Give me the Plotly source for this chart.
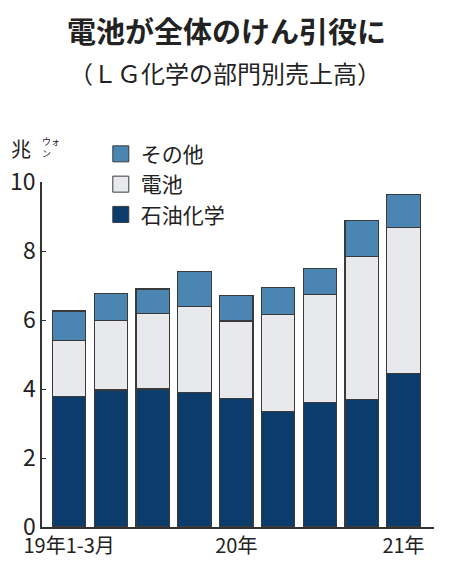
import plotly.graph_objects as go

# LG化学 部門別売上高 (兆ウォン), 19年1-3月 .. 21年1-3月
quarters = ["19年1-3月", "19年4-6月", "19年7-9月", "19年10-12月",
            "20年1-3月", "20年4-6月", "20年7-9月", "20年10-12月", "21年1-3月"]
petrochem = [3.78, 3.97, 4.00, 3.91, 3.72, 3.34, 3.61, 3.70, 4.44]
battery = [1.62, 2.01, 2.19, 2.48, 2.25, 2.81, 3.13, 4.13, 4.24]
other = [0.86, 0.79, 0.71, 1.01, 0.75, 0.79, 0.76, 1.06, 0.96]

tick_pos = [quarters[0], quarters[4], quarters[8]]
tick_text = ["19年1-3月", "20年", "21年"]

colors = {"石油化学": "#0b3c6c", "電池": "#e8e9ec", "その他": "#4a86b1"}
outline = "#3a3a3a"
jp = "Noto Sans CJK JP"
num = "Liberation Sans Narrow, Noto Sans CJK JP"

fig = go.Figure()
for name, vals in [("石油化学", petrochem), ("電池", battery), ("その他", other)]:
    fig.add_trace(go.Bar(x=quarters, y=vals, name=name, showlegend=False,
                         marker=dict(color=colors[name], line=dict(color=outline, width=1.2))))

# legend entries (bigger square swatches than the bar default)
for name in ["その他", "電池", "石油化学"]:
    fig.add_trace(go.Scatter(x=[None], y=[None], mode="markers", name=name,
                             marker=dict(symbol="square", size=16, color=colors[name],
                                         line=dict(color=outline, width=1))))

# page body has an 8px margin, so the figure is a bit smaller than the window
fig.update_layout(
    barmode="stack",
    bargap=0.2,
    width=442, height=563,
    margin=dict(l=34, r=16, t=174, b=44, autoexpand=False),
    paper_bgcolor="white", plot_bgcolor="white",
    font=dict(family=jp, color="#222"),
    showlegend=True,
    legend=dict(x=0.15, y=1.14, xanchor="left", yanchor="top",
                font=dict(size=21, family=jp, color="#222"),
                traceorder="normal", bgcolor="rgba(0,0,0,0)",
                tracegroupgap=0, itemwidth=30),
    xaxis=dict(range=[-0.65, 8.73], tickvals=tick_pos, ticktext=tick_text,
               showline=True, linecolor="#333", linewidth=1.5, ticks="",
               showgrid=False, automargin=False,
               tickfont=dict(size=20, family=num, color="#222")),
    yaxis=dict(range=[0, 10], tickvals=[0, 2, 4, 6, 8, 10], showline=True,
               linecolor="#333", linewidth=1.5, ticks="inside", ticklen=4,
               tickcolor="#333", showgrid=False, zeroline=False, automargin=False,
               tickfont=dict(size=23, family=num, color="#222")),
    annotations=[
        dict(text="<b>電池が全体のけん引役に</b>", x=0.47, y=1.44, xref="paper", yref="paper",
             showarrow=False, font=dict(size=29, family=jp, color="#222"), xanchor="center",
             yanchor="middle", borderpad=0),
        dict(text="（ＬＧ化学の部門別売上高）", x=0.467, y=1.317, xref="paper", yref="paper",
             showarrow=False, font=dict(size=24, family=jp, color="#222"), xanchor="center", yanchor="middle"),
        dict(text="兆", x=-0.085, y=1.096, xref="paper", yref="paper", xanchor="left",
             showarrow=False, font=dict(size=20, family=jp, color="#222"), yanchor="middle"),
        dict(text="ウォ<br>ン", x=-0.003, y=1.101, xref="paper", yref="paper", xanchor="left",
             align="left", showarrow=False, font=dict(size=9, family=jp, color="#222"),
             yanchor="middle", borderpad=0),
    ],
)

fig.write_html("out.html")
